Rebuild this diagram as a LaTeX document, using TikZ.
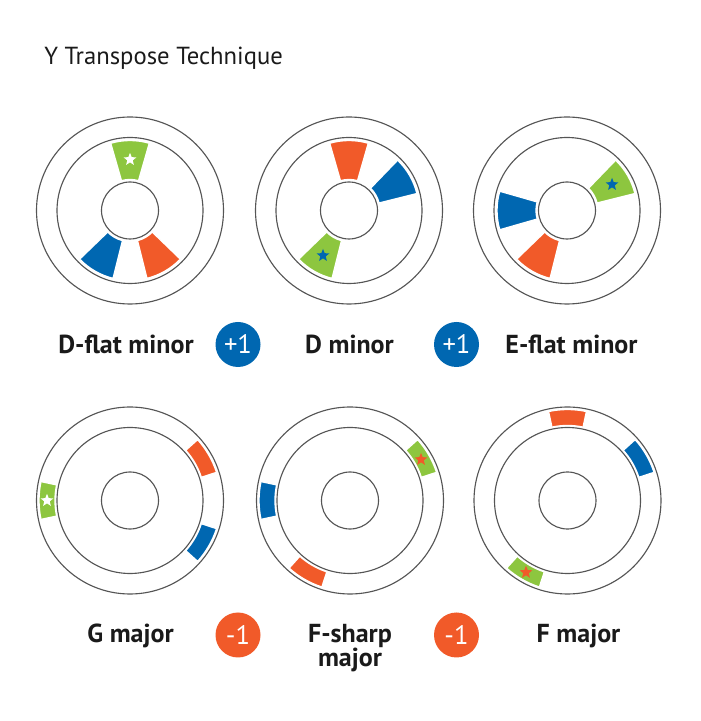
\documentclass[tikz,border=0pt]{standalone}
\usepackage{fontspec}
\setmainfont{PT Sans}
\usetikzlibrary{shapes.geometric}
\definecolor{ykgreen}{HTML}{8DC63F}
\definecolor{ykblue}{HTML}{0067B1}
\definecolor{ykred}{HTML}{F15A29}
\definecolor{ykline}{HTML}{555555}
\definecolor{ykink}{HTML}{1A1A1A}
% one dial: outer ring, middle ring, hub
\newcommand{\dial}{%
  \draw[ring] (0,0) circle[radius=93.5];
  \draw[ring] (0,0) circle[radius=73];
  \draw[ring] (0,0) circle[radius=28.5];}
% segment in the inner band / in the outer band
\newcommand{\inseg}[2]{\path[seg, fill=#2] (#1-16:31) arc[start angle=#1-16, end angle=#1+16, radius=31] -- (#1+16:70) arc[start angle=#1+16, end angle=#1-16, radius=70] -- cycle;}
\newcommand{\outseg}[2]{\path[seg, fill=#2] (#1-12:75) arc[start angle=#1-12, end angle=#1+12, radius=75] -- (#1+12:91) arc[start angle=#1+12, end angle=#1-12, radius=91] -- cycle;}
\tikzset{
  ring/.style={draw=ykline, line width=0.85pt},
  seg/.style={draw=white, line width=1pt},
  keystar/.style={star, star points=5, star point ratio=2.3, inner sep=0pt, minimum size=10pt},
  keyname/.style={font=\fontsize{19.5}{18}\selectfont\bfseries, text=ykink, align=center, anchor=base},
  badge/.style={circle, minimum size=33.75pt, inner sep=0pt, text=white, font=\fontsize{20}{20}\selectfont},
}

\begin{document}
\begin{tikzpicture}[x=0.75pt, y=0.75pt]
  \useasboundingbox (0,0) rectangle (700,721);
  \node[anchor=base west, inner sep=0pt, font=\fontsize{18.5}{20}\selectfont, text=ykink] (title) at (44,656) {Y Transpose Technique};

  % minor keys, segments in the inner band
  \begin{scope}[shift={(130,510.5)}]
    \dial
    \inseg{90}{ykgreen} \inseg{240}{ykblue} \inseg{300}{ykred}
    \node[keystar, fill=white] (s1) at (90:51) {};
  \end{scope}
  \begin{scope}[shift={(349,510.5)}]
    \dial
    \inseg{240}{ykgreen} \inseg{30}{ykblue} \inseg{90}{ykred}
    \node[keystar, fill=ykblue] (s2) at (240:52) {};
  \end{scope}
  \begin{scope}[shift={(567,510.5)}]
    \dial
    \inseg{30}{ykgreen} \inseg{180}{ykblue} \inseg{240}{ykred}
    \node[keystar, fill=ykblue] (s3) at (30:52) {};
  \end{scope}

  % major keys, segments in the outer band
  \begin{scope}[shift={(130,220.5)}]
    \dial
    \outseg{180}{ykgreen} \outseg{330}{ykblue} \outseg{30}{ykred}
    \node[keystar, fill=white] (s4) at (180:83) {};
  \end{scope}
  \begin{scope}[shift={(350,220.5)}]
    \dial
    \outseg{30}{ykgreen} \outseg{180}{ykblue} \outseg{240}{ykred}
    \node[keystar, fill=ykred] (s5) at (30:82) {};
  \end{scope}
  \begin{scope}[shift={(567.5,220.5)}]
    \dial
    \outseg{240}{ykgreen} \outseg{30}{ykblue} \outseg{90}{ykred}
    \node[keystar, fill=ykred] (s6) at (240:83) {};
  \end{scope}

  \node[keyname] (dbm) at (126,367.7) {D-flat minor};
  \node[badge, fill=ykblue] (up1) at (238,376.5) {+1};
  \node[keyname] (dm) at (349.5,367.7) {D minor};
  \node[badge, fill=ykblue] (up2) at (456.5,376.5) {+1};
  \node[keyname] (ebm) at (571.5,367.7) {E-flat minor};

  \node[keyname] (gM) at (130.5,78) {G major};
  \node[badge, fill=ykred] (dn1) at (238,86) {-1};
  \node[keyname] (fsM) at (350,54) {F-sharp\\major};
  \node[badge, fill=ykred] (dn2) at (456.5,86) {-1};
  \node[keyname] (fM) at (578.5,78) {F major};
\end{tikzpicture}
\end{document}
